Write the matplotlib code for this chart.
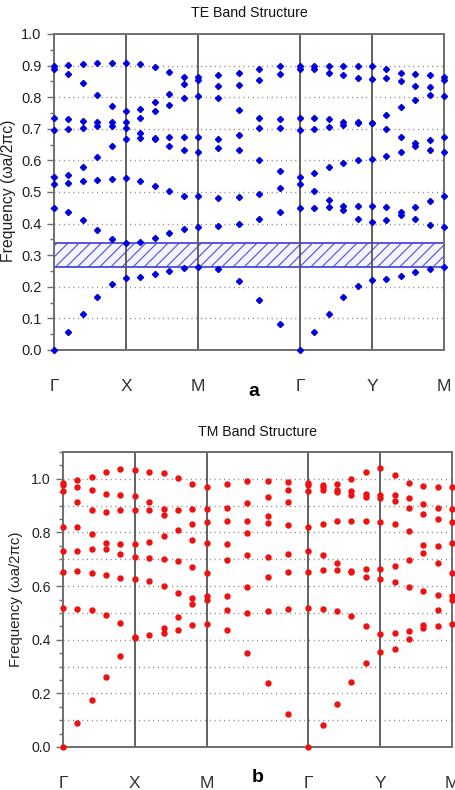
import numpy as np
import matplotlib
matplotlib.use("Agg")
import matplotlib.pyplot as plt
from matplotlib.ticker import MultipleLocator

plt.rcParams['font.family'] = ['Liberation Sans', 'DejaVu Sans']
plt.rcParams['hatch.linewidth'] = 0.8

# ---------------- data ----------------
sym_labels = ['Γ', 'X', 'M', 'Γ', 'Y', 'M']
seg_lengths = [1.0, 1.0, np.sqrt(2), 1.0, 1.0]   # Γ-X, X-M, M-Γ, Γ-Y, Y-M
points_per_seg = 5

# TE bands: one list of frequencies per k-point
te_gamma_x = [
    [0.000, 0.450, 0.524, 0.546, 0.695, 0.733, 0.889, 0.899],
    [0.058, 0.438, 0.527, 0.553, 0.699, 0.730, 0.874, 0.902],
    [0.115, 0.412, 0.535, 0.578, 0.704, 0.726, 0.844, 0.906],
    [0.167, 0.381, 0.538, 0.610, 0.708, 0.721, 0.806, 0.909],
    [0.210, 0.352, 0.541, 0.647, 0.710, 0.721, 0.772, 0.907],
]
te_x_m = [
    [0.227, 0.338, 0.544, 0.669, 0.701, 0.720, 0.755, 0.907],
    [0.230, 0.341, 0.535, 0.671, 0.688, 0.735, 0.764, 0.904],
    [0.242, 0.355, 0.520, 0.667, 0.672, 0.756, 0.784, 0.895],
    [0.249, 0.369, 0.503, 0.647, 0.673, 0.774, 0.810, 0.881],
    [0.261, 0.383, 0.488, 0.633, 0.673, 0.796, 0.841, 0.864],
]
te_m_gamma = [
    [0.263, 0.389, 0.486, 0.627, 0.673, 0.803, 0.854, 0.864],
    [0.256, 0.392, 0.481, 0.638, 0.667, 0.796, 0.834, 0.869],
    [0.218, 0.399, 0.483, 0.632, 0.679, 0.761, 0.838, 0.878],
    [0.158, 0.416, 0.495, 0.601, 0.701, 0.735, 0.854, 0.889],
    [0.083, 0.438, 0.512, 0.566, 0.701, 0.730, 0.874, 0.898],
]
te_gamma_y = [
    [0.000, 0.450, 0.524, 0.546, 0.695, 0.733, 0.889, 0.899],
    [0.058, 0.450, 0.503, 0.560, 0.699, 0.733, 0.888, 0.898],
    [0.115, 0.451, 0.476, 0.579, 0.706, 0.730, 0.878, 0.899],
    [0.167, 0.443, 0.456, 0.593, 0.712, 0.722, 0.869, 0.899],
    [0.203, 0.416, 0.457, 0.600, 0.718, 0.720, 0.862, 0.899],
]
te_y_m = [
    [0.222, 0.404, 0.457, 0.605, 0.719, 0.719, 0.859, 0.899],
    [0.224, 0.411, 0.454, 0.613, 0.699, 0.744, 0.861, 0.889],
    [0.235, 0.427, 0.437, 0.627, 0.675, 0.768, 0.852, 0.878],
    [0.247, 0.414, 0.454, 0.647, 0.656, 0.792, 0.837, 0.872],
    [0.257, 0.396, 0.473, 0.634, 0.665, 0.806, 0.831, 0.869],
    [0.263, 0.389, 0.486, 0.627, 0.673, 0.803, 0.854, 0.864],
]
te_gap = [0.263, 0.338]

# TM bands
tm_gamma_x = [
    [0.000, 0.519, 0.654, 0.731, 0.822, 0.955, 0.978, 0.985],
    [0.090, 0.516, 0.655, 0.731, 0.819, 0.914, 0.968, 0.996],
    [0.176, 0.509, 0.649, 0.737, 0.795, 0.882, 0.959, 1.007],
    [0.260, 0.494, 0.640, 0.740, 0.760, 0.877, 0.945, 1.027],
    [0.340, 0.462, 0.630, 0.719, 0.756, 0.883, 0.939, 1.037],
]
tm_x_m = [
    [0.406, 0.410, 0.628, 0.710, 0.756, 0.883, 0.935, 1.034],
    [0.416, 0.618, 0.706, 0.766, 0.883, 0.914, 1.025],
    [0.426, 0.445, 0.599, 0.702, 0.785, 0.864, 0.888, 1.020],
    [0.437, 0.486, 0.575, 0.694, 0.809, 0.885, 1.002],
    [0.455, 0.533, 0.556, 0.672, 0.773, 0.832, 0.888, 0.980],
]
tm_m_gamma = [
    [0.460, 0.548, 0.563, 0.649, 0.762, 0.838, 0.888, 0.970],
    [0.437, 0.511, 0.564, 0.696, 0.758, 0.844, 0.892, 0.980],
    [0.352, 0.501, 0.597, 0.715, 0.798, 0.844, 0.908, 0.993],
    [0.239, 0.507, 0.634, 0.709, 0.836, 0.861, 0.933, 0.993],
    [0.122, 0.513, 0.653, 0.719, 0.829, 0.914, 0.959, 0.990],
]
tm_gamma_y = [
    [0.000, 0.519, 0.654, 0.731, 0.822, 0.955, 0.978, 0.985],
    [0.083, 0.516, 0.659, 0.716, 0.833, 0.959, 0.969, 0.978],
    [0.162, 0.507, 0.659, 0.685, 0.842, 0.949, 0.959, 0.980],
    [0.242, 0.488, 0.653, 0.658, 0.844, 0.940, 0.953, 1.000],
    [0.314, 0.453, 0.634, 0.663, 0.842, 0.932, 0.945, 1.027],
]
tm_y_m = [
    [0.355, 0.422, 0.625, 0.663, 0.838, 0.930, 0.941, 1.042],
    [0.367, 0.425, 0.614, 0.675, 0.832, 0.918, 0.941, 1.015],
    [0.401, 0.431, 0.595, 0.696, 0.807, 0.892, 0.930, 0.986],
    [0.445, 0.455, 0.580, 0.722, 0.753, 0.870, 0.907, 0.974],
    [0.453, 0.509, 0.566, 0.686, 0.750, 0.851, 0.892, 0.970],
    [0.460, 0.548, 0.563, 0.649, 0.762, 0.838, 0.888, 0.970],
]

# ---------------- k-path positions ----------------
sym_pos = np.concatenate([[0.0], np.cumsum(seg_lengths)])
k_pos = [0.0]
for i, L in enumerate(seg_lengths):
    k_pos.extend(list(sym_pos[i] + L * np.arange(1, points_per_seg + 1) / points_per_seg))
k_pos = np.array(k_pos)


def flatten(segments):
    xs, ys = [], []
    kpts = [f for seg in segments for f in seg]
    for xk, freqs in zip(k_pos, kpts):
        for f in freqs:
            xs.append(xk)
            ys.append(f)
    return np.array(xs), np.array(ys)


W, H = 456, 790
fig = plt.figure(figsize=(W / 100, H / 100), dpi=100)

spine_col = '#6e6e6e'
vline_col = '#555555'
grid_col = '#7a7a7a'


def style_axes(ax, ymax, major, grid_vals, tick_fs, title, title_pad):
    ax.set_xlim(sym_pos[0], sym_pos[-1])
    ax.set_ylim(0, ymax)
    for s in ax.spines.values():
        s.set_color(spine_col)
        s.set_linewidth(1.4)
    ax.yaxis.set_major_locator(MultipleLocator(major))
    ax.yaxis.set_minor_locator(MultipleLocator(0.05))
    ax.yaxis.set_major_formatter(plt.FormatStrFormatter('%.1f'))
    ax.tick_params(axis='y', which='major', length=5, width=1.0, color=spine_col,
                   labelsize=tick_fs, pad=4, labelcolor='#222222')
    ax.tick_params(axis='y', which='minor', length=3, width=1.0, color=spine_col)
    ax.set_xticks(sym_pos)
    ax.set_xticklabels(sym_labels)
    ax.tick_params(axis='x', length=0, labelsize=12.5, pad=21, labelcolor='#333333')
    ax.hlines(grid_vals, sym_pos[0], sym_pos[-1], colors=grid_col,
              linestyles=(0, (0.7, 2.7)), linewidth=1.0, zorder=1)
    for p in sym_pos[1:-1]:
        ax.axvline(p, color=vline_col, lw=1.3, zorder=2)
    ax.set_title(title, fontsize=10.2, pad=title_pad, color='#111111')


# ---------------- TE ----------------
ax1 = fig.add_axes([54 / W, 1 - 350 / H, 390 / W, 316 / H])
style_axes(ax1, 1.0, 0.1, np.arange(0.1, 0.95, 0.1), 10.5, 'TE Band Structure', 12.5)
ax1.axhspan(te_gap[0], te_gap[1], facecolor='#f4f4ff', edgecolor='#5050d8',
            linewidth=0, hatch='///', zorder=1.5)
ax1.axhline(te_gap[0], color='#4a4ad8', lw=1.3, zorder=1.6)
ax1.axhline(te_gap[1], color='#4a4ad8', lw=1.3, zorder=1.6)
x, y = flatten([te_gamma_x, te_x_m, te_m_gamma, te_gamma_y, te_y_m])
ax1.plot(x, y, linestyle='none', marker='D', ms=3.1, color='#0000dd',
         mec='#0000dd', clip_on=False, zorder=5)
fig.text(9 / W, 1 - 191 / H, 'Frequency (ωa/2πc)', rotation=90, ha='center',
         va='center', fontsize=11.3, color='#222222')
fig.text(254 / W, 1 - 392 / H, 'a', ha='center', va='center', fontsize=14,
         fontweight='bold', color='black')

# ---------------- TM ----------------
ax2 = fig.add_axes([63 / W, 1 - 747 / H, 389 / W, 295 / H])
style_axes(ax2, 1.1, 0.2, np.arange(0.1, 1.05, 0.1), 10.2, 'TM Band Structure', 11.5)
x, y = flatten([tm_gamma_x, tm_x_m, tm_m_gamma, tm_gamma_y, tm_y_m])
ax2.plot(x, y, linestyle='none', marker='o', ms=3.6, color='#ee1111',
         mec='#ee1111', clip_on=False, zorder=5)
fig.text(16 / W, 1 - 599 / H, 'Frequency (ωa/2πc)', rotation=90, ha='center',
         va='center', fontsize=10.8, color='#222222')
fig.text(258 / W, 1 - 777 / H, 'b', ha='center', va='center', fontsize=14,
         fontweight='bold', color='black')

fig.savefig('out.png', dpi=100)
